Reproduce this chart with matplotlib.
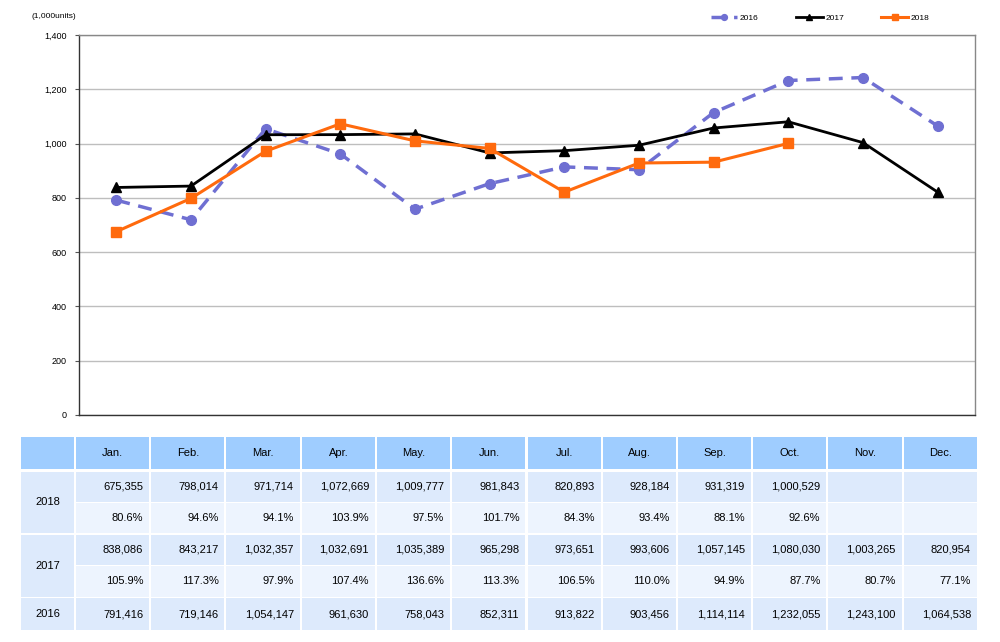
import numpy as np
import matplotlib
matplotlib.use("Agg")
from matplotlib import pyplot as plt
from matplotlib.patches import Rectangle

plt.rcParams['font.family'] = ['Liberation Sans', 'DejaVu Sans']

months = ["Jan.", "Feb.", "Mar.", "Apr.", "May.", "Jun.", "Jul.", "Aug.", "Sep.", "Oct.", "Nov.", "Dec."]
sales_2016 = [791416, 719146, 1054147, 961630, 758043, 852311, 913822, 903456, 1114114, 1232055, 1243100, 1064538]
sales_2017 = [838086, 843217, 1032357, 1032691, 1035389, 965298, 973651, 993606, 1057145, 1080030, 1003265, 820954]
sales_2018 = [675355, 798014, 971714, 1072669, 1009777, 981843, 820893, 928184, 931319, 1000529]
pct_2017 = [105.9, 117.3, 97.9, 107.4, 136.6, 113.3, 106.5, 110.0, 94.9, 87.7, 80.7, 77.1]
pct_2018 = [80.6, 94.6, 94.1, 103.9, 97.5, 101.7, 84.3, 93.4, 88.1, 92.6]
yticks = [0, 200, 400, 600, 800, 1000, 1200, 1400]

fig = plt.figure(figsize=(10, 6.42), dpi=100)

# line chart
ax = fig.add_axes([0.079, 0.3536, 0.896, 0.592])
x = np.arange(len(months))
ax.plot(x, np.array(sales_2016) / 1000, color='#6F6FD2', lw=2.5, ls=(0, (4, 2.5)),
        marker='o', ms=7, label='2016')
ax.plot(x, np.array(sales_2017) / 1000, color='black', lw=2.0,
        marker='^', ms=6.5, label='2017')
ax.plot(x[:len(sales_2018)], np.array(sales_2018) / 1000, color='#FF6A0D', lw=2.2,
        marker='s', ms=6.5, label='2018')
ax.set_xlim(-0.5, 11.5)
ax.set_ylim(0, 1400)
ax.set_yticks(yticks)
ax.set_yticklabels([f"{v:,}" for v in yticks], fontsize=6.5)
ax.set_xticks([])
ax.grid(axis='y', color='#BEBEBE', lw=1)
ax.set_axisbelow(True)
ax.tick_params(axis='y', length=3, color='#555555', pad=6)
for s in ax.spines.values():
    s.set_color('#888888')
    s.set_linewidth(1)
ax.spines['left'].set_color('#333333')
ax.spines['bottom'].set_color('#333333')
fig.text(0.031, 0.975, "(1,000units)", fontsize=6, va='center')

fig.legend(loc='center', bbox_to_anchor=(0.82, 0.972), ncol=3, frameon=False,
           fontsize=6, handlelength=3.2, columnspacing=4.5, handletextpad=0.3,
           markerscale=0.6)

# table
tax = fig.add_axes([0.02, 0.0171, 0.958, 0.3022])
col_w = [55] + [75.25] * 12
col_x = np.concatenate([[0], np.cumsum(col_w)])
row_top = [0, 34.5, 65.5, 97.5, 128.5, 161]
row_h = [32, 30, 30, 30, 31, 32]
tax.set_xlim(0, col_x[-1])
tax.set_ylim(194, 0)
tax.axis('off')

header_c = '#9FCDFF'
value_c = '#DDEAFC'
pct_c = '#EDF4FE'
gap = 2

def cell(r0, r1, c, color):
    top = row_top[r0]
    bot = row_top[r1] + row_h[r1]
    tax.add_patch(Rectangle((col_x[c] + gap / 2, top), col_w[c] - gap, bot - top,
                            facecolor=color, edgecolor='none'))

def rtext(r, c, s):
    tax.text(col_x[c + 1] - 7, row_top[r] + row_h[r] / 2, s, ha='right', va='center', fontsize=8)

# header
cell(0, 0, 0, header_c)
for i, m in enumerate(months):
    cell(0, 0, i + 1, header_c)
    tax.text(col_x[i + 1] + col_w[i + 1] / 2, row_top[0] + row_h[0] / 2, m,
             ha='center', va='center', fontsize=8)

# year labels
for (r0, r1, yr) in [(1, 2, "2018"), (3, 4, "2017"), (5, 5, "2016")]:
    cell(r0, r1, 0, value_c)
    tax.text(col_w[0] / 2, (row_top[r0] + row_top[r1] + row_h[r1]) / 2, yr,
             ha='center', va='center', fontsize=8)

rows = [(1, sales_2018, False), (2, pct_2018, True), (3, sales_2017, False),
        (4, pct_2017, True), (5, sales_2016, False)]
for r, vals, is_pct in rows:
    for i in range(12):
        cell(r, r, i + 1, pct_c if is_pct else value_c)
        if i < len(vals):
            rtext(r, i + 1, f"{vals[i]:.1f}%" if is_pct else f"{vals[i]:,}")

fig.savefig("out.png", dpi=100)
